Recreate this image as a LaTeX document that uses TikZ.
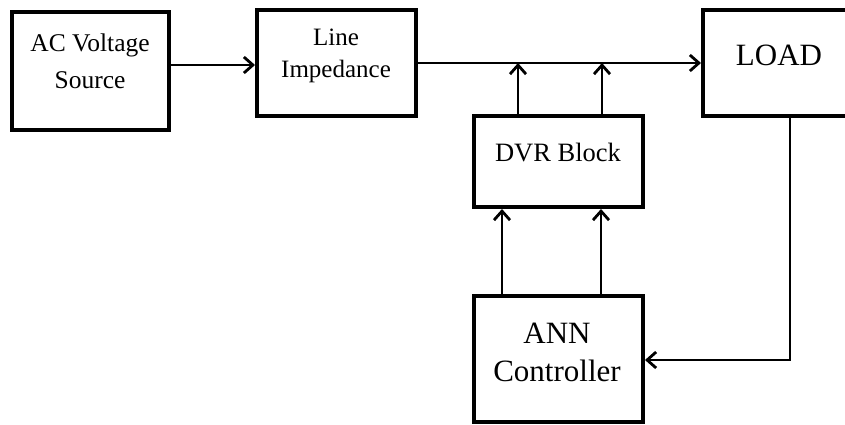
\documentclass[tikz,border=0pt]{standalone}
\usepackage{fontspec}
\setmainfont{Liberation Serif}
\usetikzlibrary{arrows.meta,calc}
\begin{document}
\begin{tikzpicture}[x=1pt,y=-1pt,
  blk/.style={draw=black,line width=4pt,rectangle,inner sep=0pt},
  txt/.style={inner sep=0pt,align=center,text=black},
  arr/.style={line width=2.8pt,-{Straight Barb[length=9pt,width=16pt,line width=2.8pt]}},
  wire/.style={line width=2.8pt}]
\useasboundingbox (0,0) rectangle (845,425);
\clip (0,0) rectangle (845,425);

% blocks
\node[blk,minimum width=157pt,minimum height=118pt] (ac)   at (90.5,71) {};
\node[blk,minimum width=159pt,minimum height=106pt] (li)   at (336.5,63) {};
\node[blk,minimum width=160pt,minimum height=106pt] (load) at (783,63) {};
\node[blk,minimum width=169pt,minimum height=91pt]  (dvr)  at (558.5,161.5) {};
\node[blk,minimum width=169pt,minimum height=126pt] (ann)  at (558.5,359) {};

% labels
\node[txt,font=\fontsize{25.5}{34}\selectfont] (tac1) at (90,45) {AC Voltage};
\node[txt,font=\fontsize{25.5}{34}\selectfont] (tac2) at (90,80) {Source};
\node[txt,font=\fontsize{25}{34}\selectfont] (tli1) at (336,37) {Line};
\node[txt,font=\fontsize{25}{34}\selectfont] (tli2) at (336,71) {Impedance};
\node[txt,font=\fontsize{31}{36}\selectfont] (tload) at (779,55) {LOAD};
\node[txt,font=\fontsize{26.5}{30}\selectfont] (tdvr) at (558,153) {DVR Block};
\node[txt,font=\fontsize{31}{36}\selectfont] (tann1) at (557,333) {ANN};
\node[txt,font=\fontsize{31}{36}\selectfont] (tann2) at (557,371) {Controller};

% forward path
\draw[arr] ([yshift=6pt]ac.east) -- ([yshift=6pt]ac.east -| li.west);
\draw[arr] (li.east) -- (load.west);

% DVR injection into the line
\draw[arr] ([xshift=-40.5pt]dvr.north) -- ([xshift=-40.5pt]dvr.north |- li.east);
\draw[arr] ([xshift=43.5pt]dvr.north) -- ([xshift=43.5pt]dvr.north |- li.east);

% controller to DVR
\draw[arr] ([xshift=-56.5pt]ann.north) -- ([xshift=-56.5pt]dvr.south);
\draw[arr] ([xshift=42.5pt]ann.north) -- ([xshift=42.5pt]dvr.south);

% load feedback to controller
\coordinate (fb) at ([xshift=7pt]load.south);
\draw[arr] (fb) |- ([yshift=-1pt]ann.east);
\end{tikzpicture}
\end{document}
